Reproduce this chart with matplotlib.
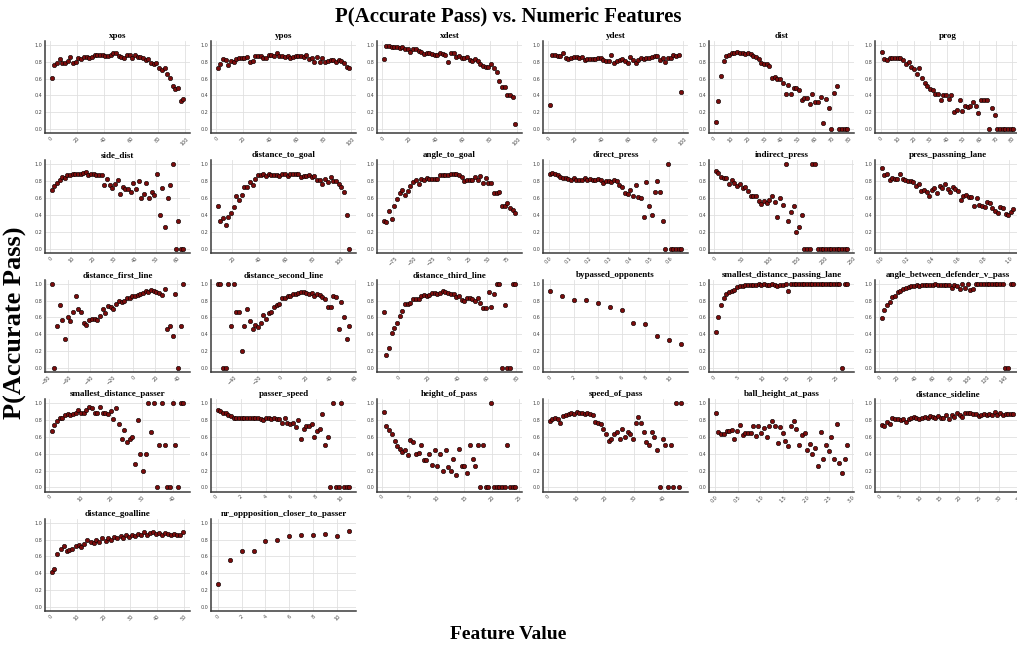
import matplotlib.pyplot as plt

# bin centres shared by the pitch-coordinate features (0-100 scale)
pitch_bins = [1, 3, 5, 7, 9, 11, 13, 15, 17, 19, 21, 23, 25, 27, 29, 31, 33, 35, 37, 39,
              41, 43, 45, 47, 49, 51, 53, 55, 57, 59, 61, 63, 65, 67, 69, 71, 73, 75, 77, 79,
              81, 83, 85, 87, 89, 91, 93, 95, 97, 99]
count_bins = [0, 1, 2, 3, 4, 5, 6, 7, 8, 9, 10, 11]

xpos_y = [0.61, 0.76, 0.78, 0.83, 0.79, 0.79, 0.81, 0.86, 0.79, 0.80, 0.85, 0.83, 0.86, 0.86, 0.85,
          0.86, 0.88, 0.88, 0.88, 0.88, 0.87, 0.87, 0.88, 0.90, 0.90, 0.87, 0.86, 0.85, 0.88, 0.88,
          0.85, 0.88, 0.86, 0.86, 0.84, 0.82, 0.83, 0.79, 0.77, 0.78, 0.72, 0.70, 0.73, 0.65, 0.61,
          0.51, 0.48, 0.49, 0.33, 0.36]
ypos_y = [0.72, 0.77, 0.83, 0.82, 0.76, 0.81, 0.80, 0.83, 0.84, 0.85, 0.85, 0.86, 0.80, 0.81, 0.87,
          0.87, 0.87, 0.85, 0.85, 0.88, 0.88, 0.87, 0.90, 0.87, 0.87, 0.86, 0.87, 0.84, 0.86, 0.87,
          0.87, 0.87, 0.86, 0.88, 0.83, 0.84, 0.80, 0.86, 0.80, 0.85, 0.80, 0.81, 0.82, 0.82, 0.80,
          0.82, 0.81, 0.79, 0.74, 0.72]
xdest_y = [0.83, 0.99, 0.99, 0.97, 0.98, 0.97, 0.96, 0.97, 0.95, 0.95, 0.92, 0.95, 0.95, 0.93, 0.92,
           0.89, 0.90, 0.90, 0.89, 0.88, 0.88, 0.90, 0.89, 0.88, 0.80, 0.90, 0.90, 0.86, 0.87, 0.85,
           0.84, 0.86, 0.82, 0.81, 0.83, 0.81, 0.77, 0.75, 0.74, 0.74, 0.77, 0.72, 0.68, 0.57, 0.50,
           0.50, 0.40, 0.40, 0.38, 0.06]
ydest_y = [0.29, 0.88, 0.88, 0.87, 0.87, 0.90, 0.85, 0.83, 0.84, 0.86, 0.86, 0.84, 0.86, 0.82, 0.83,
           0.83, 0.83, 0.83, 0.84, 0.85, 0.82, 0.81, 0.81, 0.88, 0.79, 0.81, 0.82, 0.83, 0.81, 0.78,
           0.86, 0.82, 0.78, 0.82, 0.84, 0.83, 0.84, 0.84, 0.86, 0.87, 0.87, 0.82, 0.85, 0.80, 0.84,
           0.84, 0.88, 0.87, 0.88, 0.44]

dist_x = [1.0, 2.6, 4.2, 5.8, 7.4, 9.0, 10.6, 12.2, 13.8, 15.4, 17.0, 18.6, 20.2, 21.8, 23.4, 25.0,
          26.6, 28.2, 29.8, 31.4, 33.0, 34.6, 36.2, 37.8, 39.4, 41.0, 42.6, 44.2, 45.8, 47.4, 49.0,
          50.6, 52.2, 53.8, 55.4, 57.0, 58.6, 60.2, 61.8, 63.4, 65.0, 66.6, 68.2, 69.8, 71.4, 73.0,
          74.6, 76.2, 77.8, 79.4]
dist_y = [0.09, 0.33, 0.63, 0.81, 0.87, 0.88, 0.90, 0.90, 0.91, 0.90, 0.90, 0.89, 0.90, 0.89, 0.87,
          0.86, 0.83, 0.78, 0.77, 0.77, 0.75, 0.61, 0.62, 0.60, 0.59, 0.55, 0.42, 0.52, 0.42, 0.49,
          0.49, 0.47, 0.35, 0.37, 0.37, 0.30, 0.42, 0.32, 0.32, 0.38, 0.07, 0.36, 0.25, 0.00, 0.43,
          0.51, 0.00, 0.00, 0.00, 0.00]
prog_x = [0.4, 2.0, 3.7, 5.3, 7.0, 8.6, 10.2, 11.9, 13.5, 15.2, 16.8, 18.4, 20.1, 21.7, 23.4, 25.0,
          26.6, 28.3, 29.9, 31.6, 33.2, 34.8, 36.5, 38.1, 39.8, 41.4, 43.0, 44.7, 46.3, 48.0, 49.6,
          51.2, 52.9, 54.5, 56.2, 57.8, 59.4, 61.1, 62.7, 64.4, 66.0, 67.6, 69.3, 70.9, 72.6, 74.2,
          75.8, 77.5, 79.1, 80.8]
prog_y = [0.91, 0.83, 0.82, 0.85, 0.85, 0.85, 0.85, 0.85, 0.82, 0.77, 0.80, 0.74, 0.71, 0.66, 0.72,
          0.61, 0.55, 0.51, 0.48, 0.46, 0.42, 0.42, 0.34, 0.41, 0.41, 0.36, 0.40, 0.20, 0.23, 0.34,
          0.21, 0.27, 0.26, 0.28, 0.32, 0.27, 0.19, 0.34, 0.34, 0.34, 0.00, 0.25, 0.17, 0.00, 0.00,
          0.00, 0.00, 0.00, 0.00, 0.00]

side_dist_x = [0.6, 1.9, 3.1, 4.4, 5.6, 6.9, 8.1, 9.4, 10.6, 11.9, 13.1, 14.4, 15.6, 16.9, 18.1,
               19.4, 20.6, 21.9, 23.1, 24.4, 25.6, 26.9, 28.1, 29.4, 30.6, 31.9, 33.1, 34.4, 35.6,
               36.9, 38.1, 39.4, 40.6, 41.9, 43.1, 44.4, 45.6, 46.9, 48.1, 49.4, 50.6, 51.9, 53.1,
               54.4, 55.6, 56.9, 58.1, 59.4, 60.6, 61.9, 63.1]
side_dist_y = [0.69, 0.74, 0.78, 0.82, 0.85, 0.84, 0.87, 0.87, 0.89, 0.89, 0.89, 0.88, 0.90, 0.91,
               0.87, 0.89, 0.88, 0.87, 0.87, 0.87, 0.76, 0.83, 0.76, 0.72, 0.77, 0.81, 0.65, 0.73,
               0.71, 0.71, 0.67, 0.78, 0.71, 0.80, 0.60, 0.65, 0.78, 0.60, 0.67, 0.64, 0.89, 0.40,
               0.72, 0.25, 0.60, 0.75, 1.00, 0.00, 0.33, 0.00, 0.00]
dist_goal_x = [9, 11, 13, 15, 17, 19, 21, 23, 25, 27, 29, 31, 33, 35, 37, 39, 41, 43, 45, 47, 49,
               51, 53, 55, 57, 59, 61, 63, 65, 67, 69, 71, 73, 75, 77, 79, 81, 83, 85, 87, 89, 91,
               93, 95, 97, 99, 101, 103, 105, 107]
dist_goal_y = [0.50, 0.33, 0.36, 0.28, 0.38, 0.42, 0.49, 0.62, 0.58, 0.64, 0.73, 0.73, 0.79, 0.75,
               0.83, 0.87, 0.87, 0.88, 0.86, 0.88, 0.87, 0.87, 0.87, 0.86, 0.88, 0.88, 0.86, 0.89,
               0.89, 0.89, 0.89, 0.85, 0.86, 0.86, 0.87, 0.85, 0.86, 0.82, 0.82, 0.77, 0.83, 0.79,
               0.85, 0.80, 0.80, 0.77, 0.73, 0.67, 0.40, 0.00]
angle_goal_x = [-88.0, -84.4, -80.9, -77.3, -73.8, -70.2, -66.6, -63.1, -59.5, -56.0, -52.4, -48.8,
                -45.3, -41.7, -38.2, -34.6, -31.0, -27.5, -23.9, -20.4, -16.8, -13.2, -9.7, -6.1,
                -2.6, 1.0, 4.6, 8.1, 11.7, 15.2, 18.8, 22.4, 25.9, 29.5, 33.0, 36.6, 40.2, 43.7,
                47.3, 50.8, 54.4, 58.0, 61.5, 65.1, 68.6, 72.2, 75.8, 79.3, 82.9, 86.4]
angle_goal_y = [0.33, 0.31, 0.45, 0.35, 0.51, 0.59, 0.66, 0.70, 0.64, 0.68, 0.74, 0.79, 0.81, 0.77,
                0.83, 0.82, 0.84, 0.83, 0.83, 0.83, 0.83, 0.87, 0.87, 0.87, 0.87, 0.88, 0.89, 0.88,
                0.87, 0.85, 0.80, 0.82, 0.82, 0.82, 0.85, 0.82, 0.86, 0.78, 0.84, 0.78, 0.78, 0.66,
                0.66, 0.67, 0.50, 0.50, 0.54, 0.48, 0.46, 0.42]
direct_press_x = [0.005, 0.018, 0.032, 0.045, 0.059, 0.072, 0.085, 0.099, 0.112, 0.126, 0.139,
                  0.152, 0.166, 0.179, 0.193, 0.206, 0.219, 0.233, 0.246, 0.260, 0.273, 0.286,
                  0.300, 0.313, 0.327, 0.340, 0.353, 0.367, 0.380, 0.394, 0.407, 0.420, 0.434,
                  0.447, 0.461, 0.474, 0.487, 0.501, 0.514, 0.528, 0.541, 0.554, 0.568, 0.581,
                  0.595, 0.608, 0.621, 0.635, 0.648, 0.662]
direct_press_y = [0.88, 0.90, 0.88, 0.87, 0.85, 0.84, 0.84, 0.83, 0.82, 0.84, 0.81, 0.81, 0.81,
                  0.84, 0.82, 0.83, 0.81, 0.82, 0.83, 0.82, 0.78, 0.80, 0.80, 0.79, 0.82, 0.80,
                  0.75, 0.73, 0.66, 0.65, 0.70, 0.63, 0.75, 0.61, 0.60, 0.37, 0.79, 0.50, 0.40,
                  0.67, 0.80, 0.67, 0.33, 0.00, 1.00, 0.00, 0.00, 0.00, 0.00, 0.00]
indirect_press_x = [2.4, 7.3, 12.2, 17.1, 22.0, 26.9, 31.8, 36.7, 41.6, 46.5, 51.4, 56.3, 61.2,
                    66.1, 71.0, 75.9, 80.8, 85.7, 90.6, 95.5, 100.4, 105.3, 110.2, 115.1, 120.0,
                    124.9, 129.8, 134.7, 139.6, 144.5, 149.4, 154.3, 159.2, 164.1, 169.0, 173.9,
                    178.8, 183.7, 188.6, 193.5, 198.4, 203.3, 208.2, 213.1, 218.0, 222.9, 227.8,
                    232.7, 237.6, 242.5]
indirect_press_y = [0.92, 0.90, 0.85, 0.84, 0.84, 0.77, 0.82, 0.78, 0.74, 0.77, 0.72, 0.73, 0.68,
                    0.63, 0.62, 0.63, 0.56, 0.53, 0.57, 0.54, 0.58, 0.62, 0.55, 0.37, 0.60, 0.52,
                    1.00, 0.33, 0.43, 0.50, 0.20, 0.25, 0.40, 0.00, 0.00, 0.00, 1.00, 1.00, 0.00,
                    0.00, 0.00, 0.00, 0.00, 0.00, 0.00, 0.00, 0.00, 0.00, 0.00, 0.00]
press_lane_x = [0.012, 0.033, 0.053, 0.074, 0.094, 0.115, 0.135, 0.156, 0.176, 0.197, 0.217,
                0.238, 0.258, 0.279, 0.299, 0.320, 0.340, 0.361, 0.381, 0.402, 0.422, 0.443,
                0.463, 0.484, 0.504, 0.525, 0.545, 0.566, 0.586, 0.607, 0.627, 0.648, 0.668,
                0.689, 0.709, 0.730, 0.750, 0.771, 0.791, 0.812, 0.832, 0.853, 0.873, 0.894,
                0.914, 0.935, 0.955, 0.976, 0.996, 1.017, 1.037]
press_lane_y = [0.96, 0.87, 0.88, 0.81, 0.84, 0.83, 0.83, 0.88, 0.83, 0.81, 0.80, 0.80, 0.79, 0.74,
                0.77, 0.68, 0.70, 0.67, 0.63, 0.70, 0.72, 0.66, 0.74, 0.72, 0.77, 0.71, 0.67, 0.73,
                0.71, 0.68, 0.58, 0.62, 0.64, 0.61, 0.61, 0.51, 0.60, 0.52, 0.50, 0.49, 0.55, 0.54,
                0.48, 0.45, 0.42, 0.49, 0.48, 0.41, 0.40, 0.44, 0.47]

first_line_x = [-74.6, -72.2, -69.7, -67.3, -64.8, -62.4, -59.9, -57.5, -55.0, -52.6, -50.1, -47.7,
                -45.2, -42.8, -40.3, -37.9, -35.4, -33.0, -30.5, -28.1, -25.6, -23.2, -20.7, -18.3,
                -15.8, -13.4, -10.9, -8.5, -6.0, -3.6, -1.1, 1.3, 3.8, 6.2, 8.7, 11.1, 13.6, 16.0,
                18.5, 20.9, 23.4, 25.8, 28.3, 30.7, 33.2, 35.6, 38.1, 40.5, 43.0, 45.4]
first_line_y = [1.00, 0.00, 0.50, 0.75, 0.57, 0.34, 0.60, 0.56, 0.66, 0.86, 0.70, 0.66, 0.54, 0.51,
                0.57, 0.58, 0.58, 0.57, 0.62, 0.70, 0.65, 0.74, 0.72, 0.70, 0.76, 0.79, 0.78, 0.80,
                0.83, 0.83, 0.85, 0.86, 0.87, 0.88, 0.89, 0.92, 0.90, 0.93, 0.91, 0.90, 0.89, 0.87,
                0.94, 0.46, 0.50, 0.38, 0.88, 0.00, 0.50, 1.00]
second_line_x = [-52.0, -49.8, -47.6, -45.4, -43.2, -41.0, -38.8, -36.6, -34.4, -32.2, -30.0, -27.8,
                 -25.6, -23.4, -21.2, -19.0, -16.8, -14.6, -12.4, -10.2, -8.0, -5.8, -3.6, -1.4,
                 0.8, 3.0, 5.2, 7.4, 9.6, 11.8, 14.0, 16.2, 18.4, 20.6, 22.8, 25.0, 27.2, 29.4,
                 31.6, 33.8, 36.0, 38.2, 40.4, 42.6, 44.8, 47.0, 49.2, 51.4, 53.6, 55.8]
second_line_y = [1.00, 1.00, 0.00, 0.00, 1.00, 0.50, 1.00, 0.66, 0.66, 0.20, 0.50, 0.70, 0.56, 0.46,
                 0.51, 0.49, 0.54, 0.63, 0.58, 0.65, 0.67, 0.73, 0.75, 0.76, 0.83, 0.83, 0.85, 0.85,
                 0.88, 0.88, 0.89, 0.90, 0.90, 0.89, 0.88, 0.89, 0.86, 0.88, 0.87, 0.84, 0.82, 0.72,
                 0.72, 0.86, 0.84, 0.46, 0.78, 0.60, 0.34, 0.50]
third_line_x = [-10.4, -8.6, -6.7, -4.9, -3.1, -1.3, 0.6, 2.4, 4.2, 6.1, 7.9, 9.7, 11.6, 13.4, 15.2,
                17.1, 18.9, 20.7, 22.5, 24.4, 26.2, 28.0, 29.9, 31.7, 33.5, 35.4, 37.2, 39.0, 40.8,
                42.7, 44.5, 46.3, 48.2, 50.0, 51.8, 53.7, 55.5, 57.3, 59.1, 61.0, 62.8, 64.6, 66.5,
                68.3, 70.1, 72.0, 73.8, 75.6, 77.4, 79.3]
third_line_y = [0.66, 0.15, 0.24, 0.42, 0.47, 0.53, 0.62, 0.68, 0.76, 0.76, 0.77, 0.82, 0.82, 0.82,
                0.86, 0.87, 0.86, 0.87, 0.89, 0.89, 0.88, 0.89, 0.91, 0.90, 0.89, 0.88, 0.88, 0.84,
                0.85, 0.81, 0.80, 0.83, 0.83, 0.82, 0.79, 0.83, 0.77, 0.71, 0.71, 0.90, 0.72, 0.88,
                1.00, 1.00, 0.00, 0.75, 0.00, 0.00, 1.00, 1.00]
bypassed_y = [0.92, 0.85, 0.81, 0.81, 0.77, 0.72, 0.69, 0.53, 0.52, 0.38, 0.33, 0.28]
lane_dist_x = [0.47, 1.02, 1.57, 2.12, 2.67, 3.22, 3.77, 4.32, 4.87, 5.42, 5.97, 6.52, 7.07, 7.62,
               8.17, 8.72, 9.27, 9.82, 10.37, 10.92, 11.47, 12.02, 12.57, 13.12, 13.67, 14.22,
               14.77, 15.32, 15.87, 16.42, 16.97, 17.52, 18.07, 18.62, 19.17, 19.72, 20.27, 20.82,
               21.37, 21.92, 22.47, 23.02, 23.57, 24.12, 24.67, 25.22, 25.77, 26.32, 26.87, 27.42]
lane_dist_y = [0.43, 0.61, 0.75, 0.83, 0.88, 0.90, 0.92, 0.93, 0.96, 0.97, 0.97, 0.98, 0.99, 0.98,
               0.99, 0.99, 1.00, 0.99, 1.00, 0.98, 0.99, 1.00, 0.99, 0.97, 0.98, 0.99, 1.00, 0.92,
               1.00, 1.00, 1.00, 1.00, 1.00, 1.00, 1.00, 1.00, 1.00, 1.00, 1.00, 1.00, 1.00, 1.00,
               1.00, 1.00, 1.00, 1.00, 1.00, 0.00, 1.00, 1.00]
defender_angle_x = [2.6, 5.6, 8.7, 11.7, 14.7, 17.8, 20.8, 23.8, 26.8, 29.9, 32.9, 35.9, 39.0, 42.0,
                    45.0, 48.1, 51.1, 54.1, 57.1, 60.2, 63.2, 66.2, 69.3, 72.3, 75.3, 78.4, 81.4,
                    84.4, 87.4, 90.5, 93.5, 96.5, 99.6, 102.6, 105.6, 108.7, 111.7, 114.7, 117.7,
                    120.8, 123.8, 126.8, 129.9, 132.9, 135.9, 139.0, 142.0, 145.0, 148.0, 151.1]
defender_angle_y = [0.59, 0.69, 0.75, 0.78, 0.84, 0.85, 0.90, 0.92, 0.94, 0.95, 0.96, 0.97, 0.97,
                    0.98, 0.97, 0.99, 0.98, 0.98, 0.99, 0.99, 1.00, 0.99, 0.99, 0.98, 0.99, 0.99,
                    0.95, 0.99, 0.97, 0.94, 1.00, 0.95, 1.00, 0.93, 0.94, 1.00, 1.00, 1.00, 1.00,
                    1.00, 1.00, 1.00, 1.00, 1.00, 1.00, 1.00, 0.00, 0.00, 1.00, 1.00]

passer_dist_x = [0.7, 1.6, 2.5, 3.4, 4.2, 5.1, 6.0, 6.8, 7.7, 8.6, 9.4, 10.3, 11.2, 12.0, 12.9, 13.8,
                 14.7, 15.5, 16.4, 17.3, 18.1, 19.0, 19.9, 20.7, 21.6, 22.5, 23.4, 24.2, 25.1, 26.0,
                 26.8, 27.7, 28.6, 29.4, 30.3, 31.2, 32.1, 32.9, 33.8, 34.7, 35.5, 36.4, 37.3, 38.1,
                 39.0, 39.9, 40.8, 41.6, 42.5, 43.4]
passer_dist_y = [0.67, 0.74, 0.79, 0.82, 0.83, 0.86, 0.87, 0.86, 0.87, 0.89, 0.92, 0.88, 0.89, 0.92,
                 0.95, 0.94, 0.89, 0.89, 0.96, 0.88, 0.88, 0.87, 0.91, 0.81, 0.94, 0.75, 0.58, 0.68,
                 0.54, 0.58, 0.60, 0.28, 0.80, 0.40, 0.20, 0.40, 1.00, 0.66, 1.00, 0.00, 0.50, 1.00,
                 0.50, 0.00, 0.00, 1.00, 0.50, 0.00, 1.00, 1.00]
passer_speed_x = [0.13, 0.35, 0.56, 0.78, 0.99, 1.21, 1.42, 1.64, 1.85, 2.07, 2.28, 2.50, 2.71, 2.93,
                  3.14, 3.36, 3.57, 3.79, 4.00, 4.22, 4.43, 4.65, 4.86, 5.08, 5.29, 5.51, 5.72,
                  5.94, 6.15, 6.37, 6.58, 6.80, 7.01, 7.23, 7.44, 7.66, 7.87, 8.09, 8.30, 8.52,
                  8.73, 8.95, 9.16, 9.38, 9.59, 9.81, 10.02, 10.24, 10.45, 10.67]
passer_speed_y = [0.92, 0.91, 0.89, 0.88, 0.86, 0.85, 0.83, 0.82, 0.83, 0.82, 0.82, 0.83, 0.82,
                  0.83, 0.83, 0.82, 0.81, 0.80, 0.83, 0.82, 0.81, 0.82, 0.81, 0.81, 0.76, 0.82,
                  0.76, 0.75, 0.76, 0.72, 0.80, 0.57, 0.69, 0.73, 0.73, 0.75, 0.60, 0.67, 0.70,
                  0.87, 0.50, 0.60, 0.00, 1.00, 0.00, 0.00, 1.00, 0.00, 0.00, 0.00]
pass_height_x = [0.3, 0.8, 1.3, 1.8, 2.3, 2.8, 3.2, 3.7, 4.2, 4.7, 5.2, 5.7, 6.2, 6.7, 7.2, 7.7, 8.1,
                 8.6, 9.1, 9.6, 10.1, 10.6, 11.1, 11.6, 12.1, 12.6, 13.0, 13.5, 14.0, 14.5, 15.0,
                 15.5, 16.0, 16.5, 17.0, 17.5, 17.9, 18.4, 18.9, 19.4, 19.9, 20.4, 20.9, 21.4, 21.9,
                 22.4, 22.8, 23.3, 23.8, 24.3]
pass_height_y = [0.90, 0.73, 0.68, 0.63, 0.55, 0.49, 0.46, 0.42, 0.44, 0.39, 0.56, 0.54, 0.40, 0.41,
                 0.50, 0.33, 0.33, 0.40, 0.27, 0.45, 0.25, 0.40, 0.20, 0.44, 0.24, 0.19, 0.34, 0.15,
                 0.46, 0.25, 0.25, 0.17, 0.50, 0.34, 0.25, 0.50, 0.00, 0.50, 0.00, 0.00, 1.00, 0.00,
                 0.00, 0.00, 0.00, 0.00, 0.50, 0.00, 0.00, 0.00]
pass_speed_x = [0.6, 1.5, 2.5, 3.4, 4.3, 5.3, 6.2, 7.2, 8.1, 9.0, 10.0, 10.9, 11.9, 12.8, 13.7, 14.7,
                15.6, 16.6, 17.5, 18.4, 19.4, 20.3, 21.3, 22.2, 23.1, 24.1, 25.0, 26.0, 26.9, 27.8,
                28.8, 29.7, 30.7, 31.6, 32.5, 33.5, 34.4, 35.4, 36.3, 37.2, 38.2, 39.1, 40.1, 41.0,
                41.9, 42.9, 43.8, 44.8, 45.7, 46.6]
pass_speed_y = [0.79, 0.81, 0.83, 0.81, 0.77, 0.85, 0.86, 0.87, 0.88, 0.87, 0.90, 0.89, 0.88, 0.87,
                0.88, 0.87, 0.86, 0.78, 0.77, 0.75, 0.70, 0.64, 0.55, 0.58, 0.63, 0.66, 0.57, 0.69,
                0.60, 0.66, 0.63, 0.58, 0.77, 0.84, 0.77, 0.66, 0.54, 0.50, 0.66, 0.60, 0.45, 0.00,
                0.57, 0.50, 0.00, 0.50, 0.00, 1.00, 0.00, 1.00]
ball_height_x = [0.02, 0.08, 0.14, 0.20, 0.26, 0.32, 0.37, 0.43, 0.49, 0.55, 0.61, 0.67, 0.73, 0.79,
                 0.85, 0.91, 0.96, 1.02, 1.08, 1.14, 1.20, 1.26, 1.32, 1.38, 1.44, 1.50, 1.55, 1.61,
                 1.67, 1.73, 1.79, 1.85, 1.91, 1.97, 2.03, 2.09, 2.14, 2.20, 2.26, 2.32, 2.38, 2.44,
                 2.50, 2.56, 2.62, 2.68, 2.73, 2.79, 2.85, 2.91]
ball_height_y = [0.89, 0.66, 0.64, 0.64, 0.67, 0.67, 0.68, 0.57, 0.67, 0.74, 0.62, 0.65, 0.65, 0.65,
                 0.73, 0.61, 0.73, 0.65, 0.71, 0.60, 0.73, 0.79, 0.73, 0.53, 0.72, 0.65, 0.55, 0.49,
                 0.73, 0.79, 0.70, 0.50, 0.62, 0.65, 0.44, 0.52, 0.40, 0.47, 0.25, 0.66, 0.34, 0.50,
                 0.43, 0.60, 0.34, 0.75, 0.29, 0.17, 0.34, 0.50]
sideline_x = [0.4, 1.1, 1.8, 2.4, 3.1, 3.8, 4.5, 5.2, 5.8, 6.5, 7.2, 7.9, 8.6, 9.2, 9.9, 10.6, 11.3,
              12.0, 12.6, 13.3, 14.0, 14.7, 15.4, 16.0, 16.7, 17.4, 18.1, 18.8, 19.4, 20.1, 20.8,
              21.5, 22.2, 22.8, 23.5, 24.2, 24.9, 25.6, 26.2, 26.9, 27.6, 28.3, 29.0, 29.6, 30.3,
              31.0, 31.7, 32.4, 33.0, 33.7]
sideline_y = [0.74, 0.73, 0.78, 0.75, 0.83, 0.81, 0.81, 0.80, 0.81, 0.78, 0.81, 0.82, 0.84, 0.82,
              0.81, 0.82, 0.84, 0.83, 0.85, 0.84, 0.82, 0.85, 0.83, 0.82, 0.86, 0.81, 0.86, 0.84,
              0.88, 0.86, 0.84, 0.88, 0.89, 0.89, 0.87, 0.87, 0.85, 0.86, 0.87, 0.86, 0.87, 0.86,
              0.90, 0.86, 0.88, 0.86, 0.87, 0.87, 0.87, 0.87]

goalline_x = [0.5, 1.6, 2.7, 3.9, 5.0, 6.1, 7.2, 8.3, 9.5, 10.6, 11.7, 12.8, 13.9, 15.1, 16.2, 17.3,
              18.4, 19.5, 20.7, 21.8, 22.9, 24.0, 25.1, 26.3, 27.4, 28.5, 29.6, 30.7, 31.9, 33.0,
              34.1, 35.2, 36.3, 37.5, 38.6, 39.7, 40.8, 41.9, 43.1, 44.2, 45.3, 46.4, 47.5, 48.7,
              49.8]
goalline_y = [0.42, 0.45, 0.63, 0.69, 0.72, 0.67, 0.68, 0.69, 0.72, 0.74, 0.71, 0.75, 0.79, 0.77,
              0.76, 0.80, 0.77, 0.82, 0.78, 0.82, 0.80, 0.83, 0.82, 0.84, 0.82, 0.85, 0.83, 0.86,
              0.84, 0.87, 0.86, 0.89, 0.85, 0.88, 0.89, 0.87, 0.88, 0.86, 0.88, 0.87, 0.85, 0.87,
              0.86, 0.85, 0.89]
closer_opp_y = [0.27, 0.56, 0.67, 0.66, 0.78, 0.80, 0.84, 0.86, 0.86, 0.87, 0.84, 0.90]

panels = [
    ("xpos", pitch_bins, xpos_y),
    ("ypos", pitch_bins, ypos_y),
    ("xdest", pitch_bins, xdest_y),
    ("ydest", pitch_bins, ydest_y),
    ("dist", dist_x, dist_y),
    ("prog", prog_x, prog_y),
    ("side_dist", side_dist_x, side_dist_y),
    ("distance_to_goal", dist_goal_x, dist_goal_y),
    ("angle_to_goal", angle_goal_x, angle_goal_y),
    ("direct_press", direct_press_x, direct_press_y),
    ("indirect_press", indirect_press_x, indirect_press_y),
    ("press_passning_lane", press_lane_x, press_lane_y),
    ("distance_first_line", first_line_x, first_line_y),
    ("distance_second_line", second_line_x, second_line_y),
    ("distance_third_line", third_line_x, third_line_y),
    ("bypassed_opponents", count_bins, bypassed_y),
    ("smallest_distance_passing_lane", lane_dist_x, lane_dist_y),
    ("angle_between_defender_v_pass", defender_angle_x, defender_angle_y),
    ("smallest_distance_passer", passer_dist_x, passer_dist_y),
    ("passer_speed", passer_speed_x, passer_speed_y),
    ("height_of_pass", pass_height_x, pass_height_y),
    ("speed_of_pass", pass_speed_x, pass_speed_y),
    ("ball_height_at_pass", ball_height_x, ball_height_y),
    ("distance_sideline", sideline_x, sideline_y),
    ("distance_goalline", goalline_x, goalline_y),
    ("nr_oppposition_closer_to_passer", count_bins, closer_opp_y),
]

serif = "Liberation Serif"

fig, axes = plt.subplots(5, 6, figsize=(10.17, 6.46), dpi=100)
fig.subplots_adjust(left=0.0442, right=1.003, top=0.937, bottom=0.054, wspace=0.145, hspace=0.29)

for ax, (name, x, y) in zip(axes.flat, panels):
    ax.scatter(x, y, s=10, color="#7a0c0c", edgecolor="black", linewidth=0.4, zorder=3)
    ax.set_title(name, fontsize=6.5, fontweight="bold", family=serif, pad=2)
    ax.set_ylim(-0.05, 1.05)
    ax.set_yticks([0.0, 0.2, 0.4, 0.6, 0.8, 1.0])
    ax.grid(True, color="#e0e0e0", linewidth=0.6, zorder=0)
    ax.set_axisbelow(True)
    ax.tick_params(axis="both", labelsize=3.5, length=0, pad=2, labelcolor="#444444")
    ax.tick_params(axis="x", labelrotation=45)
    for side in ("top", "right"):
        ax.spines[side].set_visible(False)
    for side in ("left", "bottom"):
        ax.spines[side].set_color("#3a3a3a")
        ax.spines[side].set_linewidth(1.1)

for ax in axes.flat[len(panels):]:
    ax.remove()

fig.suptitle("P(Accurate Pass) vs. Numeric Features", fontsize=15, fontweight="bold",
             family=serif, y=0.99)
fig.supylabel("P(Accurate Pass)", fontsize=19, fontweight="bold", family=serif, x=0.004)
fig.supxlabel("Feature Value", fontsize=14, fontweight="bold", family=serif, y=0.004)

fig.savefig("out.png", dpi=100)
